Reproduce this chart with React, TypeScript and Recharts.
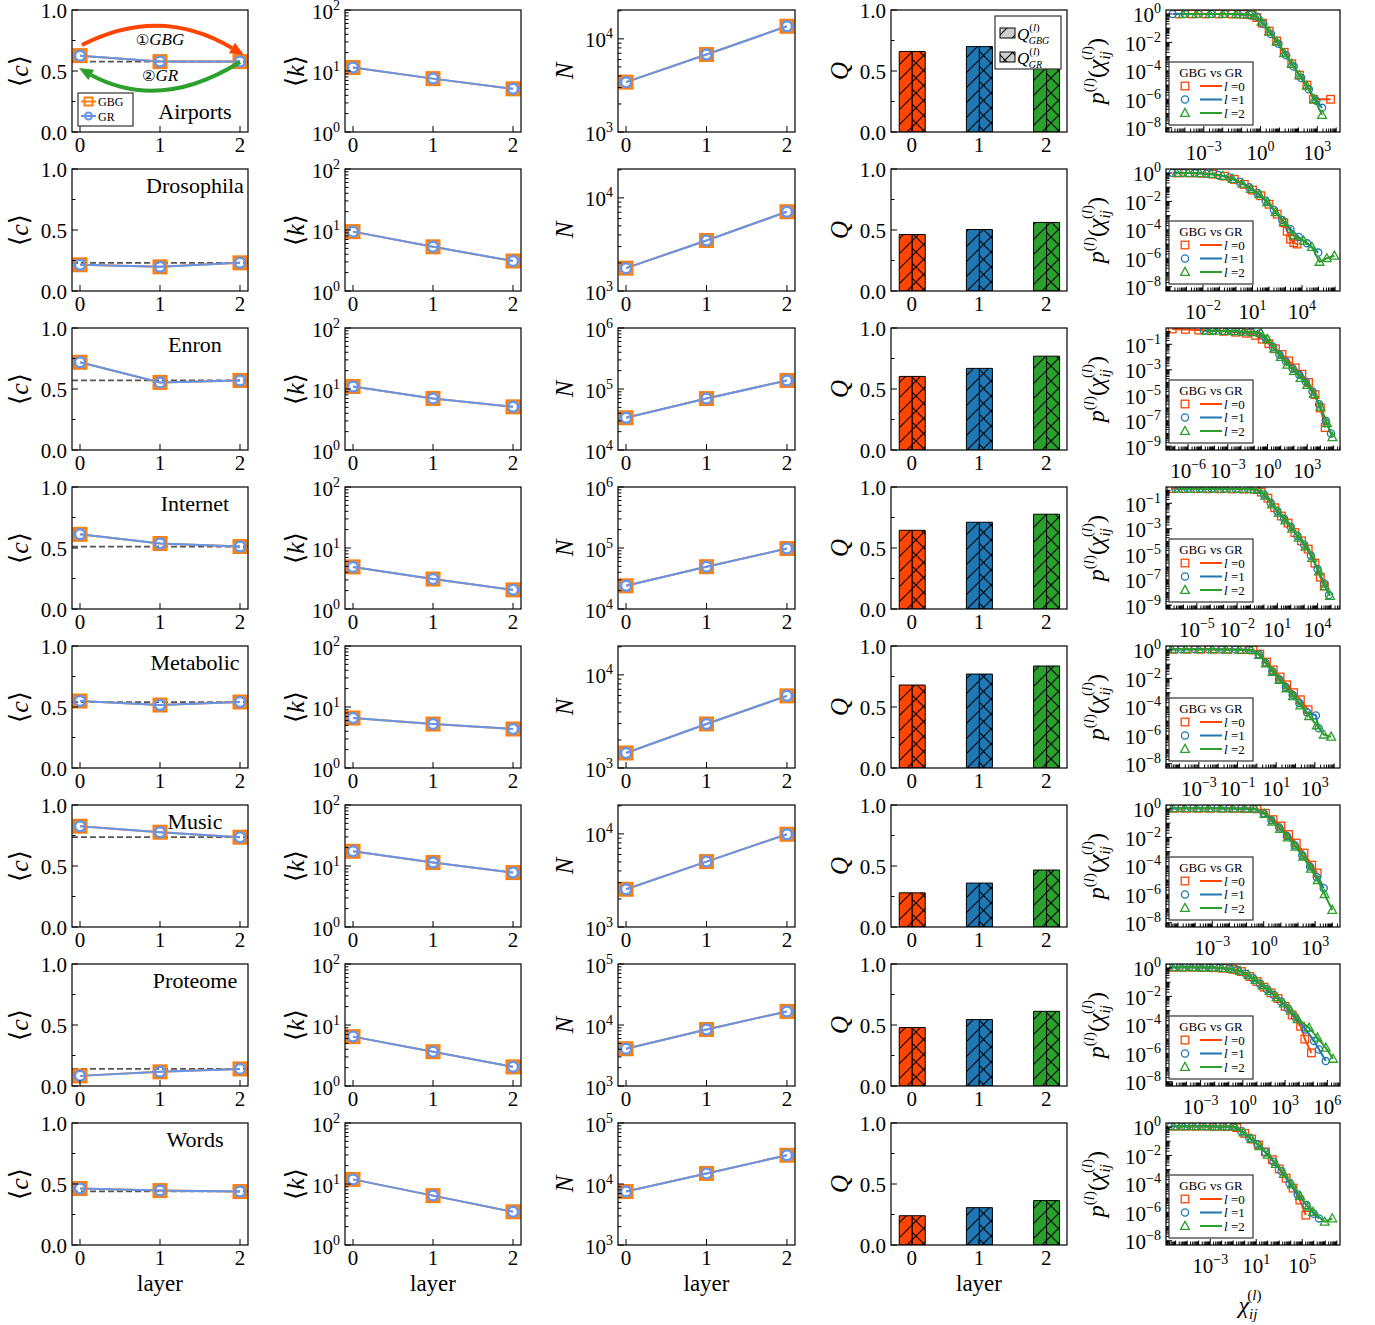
import React from "react";
import {
  LineChart,
  Line,
  BarChart,
  Bar,
  Cell,
  ScatterChart,
  Scatter,
  XAxis,
  YAxis,
  ReferenceLine,
} from "recharts";

const FONT = "'Liberation Serif', 'DejaVu Serif', serif";
const ORANGE = "#ff7f0e";
const CORNFLOWER = "#6495ed";
const LAYER_COLORS = ["#ff4500", "#1f77b4", "#2ca02c"];

const NETWORKS = ["Airports", "Drosophila", "Enron", "Internet", "Metabolic", "Music", "Proteome", "Words"];
const LAYERS = [0, 1, 2];

// <c> per layer (GBG and GR coincide), dashed line = layer-0 reference
const CLUSTERING = [
  [0.626, 0.577, 0.577],
  [0.215, 0.198, 0.231],
  [0.719, 0.554, 0.57],
  [0.612, 0.537, 0.512],
  [0.549, 0.516, 0.541],
  [0.826, 0.777, 0.736],
  [0.083, 0.116, 0.14],
  [0.463, 0.446, 0.438],
];
const CLUSTERING_REF = [0.577, 0.23, 0.57, 0.512, 0.54, 0.736, 0.14, 0.44];

// <k> per layer
const DEGREE = [
  [11.4, 7.5, 5.1],
  [9.4, 5.3, 3.1],
  [11.0, 7.0, 5.1],
  [4.9, 3.1, 2.06],
  [6.6, 5.25, 4.36],
  [17.4, 11.4, 7.8],
  [6.45, 3.65, 2.06],
  [11.9, 6.45, 3.5],
];

// N per layer
const NODES = [
  [3430, 6790, 13650],
  [1760, 3490, 7100],
  [33800, 69700, 138000],
  [24000, 49400, 98000],
  [1450, 2970, 5950],
  [2540, 5040, 9900],
  [4080, 8440, 16700],
  [7520, 14900, 29600],
];
const NODES_RANGE = [[3, 4.31], [3, 4.31], [4, 6], [4, 6], [3, 4.31], [3, 4.31], [3, 5], [3, 5]];
const NODES_LABELS = [[3, 4], [3, 4], [4, 5, 6], [4, 5, 6], [3, 4], [3, 4], [3, 4, 5], [3, 4, 5]];

// Q per layer (GBG and GR halves)
const MODULARITY = [
  [0.66, 0.7, 0.73],
  [0.463, 0.504, 0.562],
  [0.603, 0.669, 0.769],
  [0.645, 0.711, 0.777],
  [0.68, 0.77, 0.836],
  [0.28, 0.36, 0.467],
  [0.479, 0.545, 0.612],
  [0.24, 0.306, 0.364],
];

// p(chi) distributions, points as [log10 chi, log10 p], for l = 0, 1, 2
const CHI_AIRPORTS = [
  [[-4.3, 0], [-3.6, 0], [-2.9, 0], [-2.2, 0], [-1.5, 0], [-0.9, -0.03], [-0.45, -0.07], [-0.2, -0.25], [0.1, -0.65], [0.45, -1.2], [0.85, -1.9], [1.25, -2.7], [1.65, -3.5], [2.05, -4.3], [2.45, -5.0], [2.8, -6.0], [3.7, -6.0]],
  [[-4.65, 0], [-4.0, 0], [-3.3, 0], [-2.6, 0], [-1.9, 0], [-1.2, -0.02], [-0.6, -0.05], [-0.2, -0.2], [0.15, -0.7], [0.55, -1.4], [0.95, -2.1], [1.35, -2.9], [1.75, -3.7], [2.15, -4.5], [2.55, -5.3], [2.95, -6.1], [3.25, -6.6]],
  [[-4.1, 0], [-3.4, 0], [-2.7, 0], [-2.0, 0], [-1.3, -0.01], [-0.7, -0.04], [-0.3, -0.12], [0.05, -0.55], [0.45, -1.25], [0.85, -1.95], [1.25, -2.75], [1.65, -3.5], [2.05, -4.3], [2.45, -5.05], [2.85, -6.0], [3.25, -7.1]],
];
const CHI_DROSOPHILA = [
  [[-3.5, 0], [-2.8, 0], [-2.1, -0.02], [-1.4, -0.08], [-0.7, -0.22], [-0.1, -0.45], [0.5, -0.8], [1.0, -1.2], [1.5, -1.6], [2.0, -2.2], [2.5, -2.9], [2.9, -3.5], [3.1, -4.1], [3.3, -4.65], [3.5, -4.9], [3.7, -5.0]],
  [[-3.84, 0], [-3.2, 0], [-2.5, -0.01], [-1.8, -0.05], [-1.1, -0.14], [-0.4, -0.32], [0.2, -0.62], [0.8, -1.0], [1.3, -1.4], [1.8, -1.95], [2.3, -2.6], [2.8, -3.3], [3.3, -3.95], [3.8, -4.5], [4.3, -4.95], [4.98, -5.6]],
  [[-3.6, 0], [-2.9, 0], [-2.2, -0.02], [-1.5, -0.07], [-0.8, -0.2], [-0.2, -0.42], [0.4, -0.75], [0.9, -1.12], [1.4, -1.5], [1.9, -2.05], [2.4, -2.75], [2.9, -3.45], [3.5, -4.4], [4.1, -4.77], [4.6, -5.2], [5.06, -6.25], [5.5, -6.0], [5.96, -5.82]],
];
const CHI_ENRON = [
  [[-7.2, 0.2], [-6.2, 0.17], [-5.2, 0.12], [-4.2, 0.07], [-3.3, 0.02], [-2.4, -0.05], [-1.6, -0.13], [-0.9, -0.3], [-0.4, -0.6], [0.1, -0.95], [0.6, -1.35], [1.1, -1.8], [1.6, -2.3], [2.1, -2.85], [2.6, -3.35], [3.1, -4.0], [3.6, -4.95], [4.0, -6.0], [4.36, -7.54]],
  [[-4.8, 0.07], [-4.1, 0.06], [-3.4, 0.04], [-2.7, 0.02], [-2.0, -0.01], [-1.3, -0.05], [-0.6, -0.15], [-0.1, -0.6], [0.4, -1.2], [0.9, -1.8], [1.4, -2.35], [1.9, -2.9], [2.4, -3.4], [2.9, -3.95], [3.4, -4.7], [3.9, -5.7], [4.4, -7.0], [4.8, -8.0]],
  [[-4.6, 0.07], [-3.9, 0.06], [-3.2, 0.04], [-2.5, 0.02], [-1.8, -0.01], [-1.1, -0.04], [-0.5, -0.12], [0.0, -0.6], [0.5, -1.35], [1.0, -2.0], [1.5, -2.6], [2.0, -3.1], [2.5, -3.65], [3.0, -4.2], [3.5, -4.9], [4.0, -5.9], [4.5, -7.2], [4.91, -8.3]],
];
const CHI_INTERNET = [
  [[-6.9, 0.15], [-6.0, 0.15], [-5.1, 0.15], [-4.2, 0.14], [-3.3, 0.14], [-2.4, 0.13], [-1.5, 0.12], [-0.7, 0.1], [-0.2, -0.12], [0.3, -0.6], [0.8, -1.35], [1.3, -2.0], [1.8, -2.55], [2.3, -3.3], [2.8, -3.95], [3.3, -4.6], [3.8, -5.7], [4.2, -6.8], [4.5, -7.5]],
  [[-6.6, 0.15], [-5.7, 0.15], [-4.8, 0.15], [-3.9, 0.14], [-3.0, 0.14], [-2.1, 0.13], [-1.2, 0.12], [-0.5, 0.08], [0.0, -0.3], [0.5, -0.95], [1.0, -1.6], [1.5, -2.2], [2.0, -2.85], [2.5, -3.55], [3.0, -4.25], [3.5, -5.1], [4.0, -6.15], [4.5, -7.3], [4.85, -8.2]],
  [[-6.4, 0.15], [-5.5, 0.15], [-4.6, 0.15], [-3.7, 0.14], [-2.8, 0.14], [-1.9, 0.13], [-1.0, 0.11], [-0.4, 0.05], [0.1, -0.4], [0.6, -1.1], [1.1, -1.75], [1.6, -2.35], [2.1, -3.0], [2.6, -3.7], [3.1, -4.4], [3.6, -5.3], [4.1, -6.35], [4.55, -7.5], [4.93, -8.27]],
];
const CHI_METABOLIC = [
  [[-4.3, 0.05], [-3.6, 0.05], [-2.9, 0.05], [-2.2, 0.05], [-1.5, 0.04], [-0.8, 0.02], [-0.2, 0], [0.15, -0.3], [0.5, -0.85], [0.85, -1.4], [1.2, -1.9], [1.55, -2.45], [1.9, -3.0], [2.25, -3.5], [2.65, -4.2]],
  [[-4.57, 0.05], [-3.9, 0.05], [-3.2, 0.05], [-2.5, 0.05], [-1.8, 0.04], [-1.1, 0.03], [-0.4, 0.01], [0.1, -0.3], [0.45, -0.9], [0.8, -1.5], [1.15, -2.05], [1.5, -2.6], [1.85, -3.15], [2.2, -3.75], [2.6, -4.4], [3.05, -4.6], [3.2, -5.5]],
  [[-4.4, 0.05], [-3.7, 0.05], [-3.0, 0.05], [-2.3, 0.05], [-1.6, 0.04], [-0.9, 0.02], [-0.3, 0], [0.12, -0.35], [0.47, -0.95], [0.82, -1.55], [1.17, -2.1], [1.52, -2.7], [1.87, -3.25], [2.25, -3.9], [2.7, -4.65], [3.1, -5.3], [3.46, -5.95], [3.84, -6.1]],
];
const CHI_MUSIC = [
  [[-5.2, 0.05], [-4.5, 0.05], [-3.8, 0.05], [-3.1, 0.05], [-2.4, 0.05], [-1.7, 0.04], [-1.0, 0.03], [-0.4, 0.01], [0.1, -0.3], [0.55, -0.75], [1.0, -1.2], [1.45, -1.8], [1.9, -2.4], [2.35, -3.1], [2.8, -3.95], [3.12, -4.5]],
  [[-5.5, 0.05], [-4.8, 0.05], [-4.1, 0.05], [-3.4, 0.05], [-2.7, 0.05], [-2.0, 0.04], [-1.3, 0.03], [-0.6, 0.02], [0.0, -0.3], [0.45, -0.8], [0.9, -1.3], [1.35, -1.9], [1.8, -2.55], [2.25, -3.25], [2.7, -4.05], [3.1, -4.8], [3.5, -5.57]],
  [[-5.3, 0.05], [-4.6, 0.05], [-3.9, 0.05], [-3.2, 0.05], [-2.5, 0.05], [-1.8, 0.04], [-1.1, 0.03], [-0.5, 0.02], [0.05, -0.35], [0.5, -0.9], [0.95, -1.4], [1.4, -2.0], [1.85, -2.65], [2.3, -3.35], [2.75, -4.2], [3.15, -5.0], [3.55, -6.0], [4.0, -7.1]],
];
const CHI_PROTEOME = [
  [[-4.9, 0.05], [-4.2, 0.05], [-3.5, 0.05], [-2.8, 0.04], [-2.1, 0.02], [-1.4, -0.02], [-0.7, -0.1], [-0.1, -0.25], [0.5, -0.6], [1.0, -0.95], [1.5, -1.35], [2.0, -1.75], [2.5, -2.15], [3.0, -2.7], [3.5, -3.3], [4.1, -4.1], [4.4, -5.0], [4.87, -5.97]],
  [[-5.23, 0.05], [-4.5, 0.05], [-3.8, 0.05], [-3.1, 0.04], [-2.4, 0.03], [-1.7, 0], [-1.0, -0.05], [-0.4, -0.15], [0.2, -0.4], [0.7, -0.72], [1.2, -1.1], [1.7, -1.5], [2.2, -1.9], [2.7, -2.35], [3.2, -2.85], [3.7, -3.45], [4.47, -4.32], [5.06, -5.14], [5.41, -5.73], [5.89, -6.55]],
  [[-5.0, 0.05], [-4.3, 0.05], [-3.6, 0.05], [-2.9, 0.04], [-2.2, 0.03], [-1.5, 0], [-0.8, -0.06], [-0.2, -0.2], [0.4, -0.5], [0.9, -0.85], [1.4, -1.22], [1.9, -1.62], [2.4, -2.05], [2.9, -2.5], [3.4, -3.0], [3.9, -3.6], [4.7, -4.2], [5.3, -4.9], [5.89, -5.61], [6.41, -6.39]],
];
const CHI_WORDS = [
  [[-6.0, 0.05], [-5.1, 0.05], [-4.2, 0.05], [-3.3, 0.05], [-2.4, 0.04], [-1.5, 0.03], [-0.7, -0.05], [0, -0.45], [0.6, -0.85], [1.2, -1.27], [1.8, -1.75], [2.4, -2.3], [3.0, -2.95], [3.6, -3.6], [4.2, -4.3], [4.79, -5.14], [5.31, -6.2]],
  [[-6.41, 0.05], [-5.5, 0.05], [-4.6, 0.05], [-3.7, 0.05], [-2.8, 0.04], [-1.9, 0.03], [-1.0, 0.01], [-0.3, -0.3], [0.4, -0.78], [1.1, -1.22], [1.8, -1.78], [2.5, -2.45], [3.2, -3.12], [3.9, -3.95], [4.6, -4.75], [5.37, -5.49], [6.0, -6.1], [6.46, -6.43]],
  [[-6.2, 0.05], [-5.3, 0.05], [-4.4, 0.05], [-3.5, 0.05], [-2.6, 0.04], [-1.7, 0.03], [-0.8, 0], [-0.1, -0.38], [0.6, -0.85], [1.3, -1.35], [2.0, -1.95], [2.7, -2.6], [3.4, -3.3], [4.1, -4.05], [4.8, -4.85], [5.5, -5.6], [5.94, -5.97], [6.95, -6.67], [7.61, -6.43]],
];
const CHI_ALL = [CHI_AIRPORTS, CHI_DROSOPHILA, CHI_ENRON, CHI_INTERNET, CHI_METABOLIC, CHI_MUSIC, CHI_PROTEOME, CHI_WORDS];

// axis ranges in decades
const CHI_XRANGE = [[-5.0, 4.2], [-4.24, 6.3], [-7.67, 5.48], [-7.3, 5.67], [-4.7, 4.3], [-5.7, 4.45], [-5.46, 6.9], [-6.84, 8.28]];
const CHI_XLABELS = [[-3, 0, 3], [-2, 1, 4], [-6, -3, 0, 3], [-5, -2, 1, 4], [-3, -1, 1, 3], [-3, 0, 3], [-3, 0, 3, 6], [-3, 1, 5]];
const CHI_YRANGE = [[-8.3, 0.28], [-8.3, 0.28], [-9.3, 0.28], [-9.3, 0.28], [-8.3, 0.28], [-8.3, 0.28], [-8.3, 0.28], [-8.3, 0.28]];
const CHI_YLABELS = [[0, -2, -4, -6, -8], [0, -2, -4, -6, -8], [-1, -3, -5, -7, -9], [-1, -3, -5, -7, -9], [0, -2, -4, -6, -8], [0, -2, -4, -6, -8], [0, -2, -4, -6, -8], [0, -2, -4, -6, -8]];

// layout
const COL_X = [72, 345, 618, 891, 1166];
const COL_W = [176, 176, 177, 176, 174];
const ROW_Y = [10, 169, 328, 487, 646, 805, 964, 1123];
const PH = 122;
const ML = 80, MT = 22, MR = 15, MB = 40;

const MAJOR = 6;
const MINOR = 3.5;
const TICK_FS = 21;

type TickInfo = { len: number; label?: React.ReactNode; pow?: boolean };

const minus = (e: number) => (e < 0 ? "\u2212" + -e : String(e));

const Pow = ({ e }: { e: number }) => (
  <>
    <tspan>10</tspan>
    <tspan dy={-9} fontSize={14}>{minus(e)}</tspan>
  </>
);

function linearInfo(labels: number[], digits: number) {
  return (v: number): TickInfo =>
    labels.some((l) => Math.abs(l - v) < 1e-9) ? { len: MAJOR, label: v.toFixed(digits) } : { len: MINOR };
}

function logInfo(labels: number[]) {
  return (v: number): TickInfo => {
    const e = Math.log10(v);
    const r = Math.round(e);
    if (Math.abs(e - r) > 1e-6) return { len: MINOR };
    if (!labels.includes(r)) return { len: MAJOR - 1.5 };
    return { len: MAJOR, label: <Pow e={r} />, pow: true };
  };
}

function logTicks(lo: number, hi: number) {
  const out: number[] = [];
  for (let k = Math.floor(lo); k <= Math.ceil(hi); k++) {
    for (let m = 1; m < 10; m++) {
      const v = m * Math.pow(10, k);
      const e = Math.log10(v);
      if (e >= lo - 1e-9 && e <= hi + 1e-9) out.push(v);
    }
  }
  return out;
}

const leftTick = (info: (v: number) => TickInfo) => (p: any) => {
  const t = info(p.payload.value);
  return (
    <g>
      <line x1={p.x} x2={p.x + t.len} y1={p.y} y2={p.y} stroke="#000" strokeWidth={1} />
      {t.label != null && (
        <text x={p.x - 5} y={p.y + (t.pow ? 8.5 : 7.5)} textAnchor="end" fontSize={TICK_FS} fontFamily={FONT} fill="#000">
          {t.label}
        </text>
      )}
    </g>
  );
};

const bottomTick = (info: (v: number) => TickInfo) => (p: any) => {
  const t = info(p.payload.value);
  return (
    <g>
      <line x1={p.x} x2={p.x} y1={p.y} y2={p.y - t.len} stroke="#000" strokeWidth={1} />
      {t.label != null && (
        <text x={p.x} y={p.y + (t.pow ? 28 : 20)} textAnchor="middle" fontSize={TICK_FS} fontFamily={FONT} fill="#000">
          {t.label}
        </text>
      )}
    </g>
  );
};

const axisCommon = {
  tickSize: 0,
  tickMargin: 0,
  tickLine: false,
  interval: 0 as const,
  allowDataOverflow: true,
  axisLine: false,
};

// axes get 1px of room (a zero-sized axis renders nothing); margins leave the plot at ML/MT
function layerAxis(domain: [number, number]) {
  return (
    <XAxis type="number" dataKey="layer" domain={domain} ticks={LAYERS} height={1} {...axisCommon}
      tick={bottomTick(linearInfo(LAYERS, 0))} />
  );
}

function unitYAxis() {
  return (
    <YAxis type="number" domain={[0, 1]} ticks={[0, 0.25, 0.5, 0.75, 1]} width={1} {...axisCommon}
      tick={leftTick(linearInfo([0, 0.5, 1], 1))} />
  );
}

function logYAxis(lo: number, hi: number, labels: number[]) {
  return (
    <YAxis type="number" scale="log" domain={[Math.pow(10, lo), Math.pow(10, hi)]} ticks={logTicks(lo, hi)}
      width={1} {...axisCommon} tick={leftTick(logInfo(labels))} />
  );
}

const size = (col: number) => ({
  width: ML + COL_W[col] + MR,
  height: MT + PH + MB,
  margin: { top: MT, right: MR, bottom: MB - 1, left: ML - 1 },
});

function Panel({ row, col, children }: { row: number; col: number; children: React.ReactNode }) {
  return (
    <div style={{ position: "absolute", left: COL_X[col] - ML, top: ROW_Y[row] - MT }}>
      {children}
    </div>
  );
}

const squareDot = (p: any) => (
  <rect key={`s${p.index}`} x={p.cx - 6} y={p.cy - 6} width={12} height={12} fill="none" stroke={ORANGE} strokeWidth={3} />
);
const circleDot = (p: any) => (
  <circle key={`c${p.index}`} cx={p.cx} cy={p.cy} r={5} fill="none" stroke={CORNFLOWER} strokeWidth={2.5} />
);

const layerRows = (values: number[]) => LAYERS.map((l, i) => ({ layer: l, gbg: values[i], gr: values[i] }));

function ClusteringPanel({ row }: { row: number }) {
  return (
    <Panel row={row} col={0}>
      <LineChart {...size(0)} data={layerRows(CLUSTERING[row])}>
        {layerAxis([-0.1, 2.1])}
        {unitYAxis()}
        <ReferenceLine y={CLUSTERING_REF[row]} stroke="#555" strokeWidth={1.8} strokeDasharray="6 3" />
        <Line dataKey="gbg" stroke={ORANGE} strokeWidth={2} dot={squareDot} activeDot={false} isAnimationActive={false} />
        <Line dataKey="gr" stroke={CORNFLOWER} strokeWidth={2} dot={circleDot} activeDot={false} isAnimationActive={false} />
      </LineChart>
    </Panel>
  );
}

function LogPanel({ row, col, values, lo, hi, labels }: { row: number; col: number; values: number[]; lo: number; hi: number; labels: number[] }) {
  return (
    <Panel row={row} col={col}>
      <LineChart {...size(col)} data={layerRows(values)}>
        {layerAxis([-0.1, 2.1])}
        {logYAxis(lo, hi, labels)}
        <Line dataKey="gbg" stroke={ORANGE} strokeWidth={2} dot={squareDot} activeDot={false} isAnimationActive={false} />
        <Line dataKey="gr" stroke={CORNFLOWER} strokeWidth={2} dot={circleDot} activeDot={false} isAnimationActive={false} />
      </LineChart>
    </Panel>
  );
}

function ModularityPanel({ row }: { row: number }) {
  return (
    <Panel row={row} col={3}>
      <BarChart {...size(3)} data={layerRows(MODULARITY[row])} barGap={0} barSize={13}>
        {layerAxis([-0.31, 2.31])}
        {unitYAxis()}
        <Bar dataKey="gbg" stroke="#000" strokeWidth={1} isAnimationActive={false}>
          {LAYERS.map((l) => <Cell key={l} fill={`url(#slash${l})`} />)}
        </Bar>
        <Bar dataKey="gr" stroke="#000" strokeWidth={1} isAnimationActive={false}>
          {LAYERS.map((l) => <Cell key={l} fill={`url(#cross${l})`} />)}
        </Bar>
      </BarChart>
    </Panel>
  );
}

function Marker({ l, cx, cy }: { l: number; cx: number; cy: number }) {
  const c = LAYER_COLORS[l];
  if (l === 0) return <rect x={cx - 3.8} y={cy - 3.8} width={7.6} height={7.6} fill="none" stroke={c} strokeWidth={1.3} />;
  if (l === 1) return <circle cx={cx} cy={cy} r={3.6} fill="none" stroke={c} strokeWidth={1.3} />;
  return <polygon points={`${cx},${cy - 4.6} ${cx - 4.4},${cy + 3.4} ${cx + 4.4},${cy + 3.4}`} fill="none" stroke={c} strokeWidth={1.3} />;
}

function ChiPanel({ row }: { row: number }) {
  const [xlo, xhi] = CHI_XRANGE[row];
  const [ylo, yhi] = CHI_YRANGE[row];
  return (
    <Panel row={row} col={4}>
      <ScatterChart {...size(4)}>
        <XAxis type="number" dataKey="x" scale="log" domain={[Math.pow(10, xlo), Math.pow(10, xhi)]} ticks={logTicks(xlo, xhi)}
          height={1} {...axisCommon} tick={bottomTick(logInfo(CHI_XLABELS[row]))} />
        <YAxis type="number" dataKey="y" scale="log" domain={[Math.pow(10, ylo), Math.pow(10, yhi)]} ticks={logTicks(ylo, yhi)}
          width={1} {...axisCommon} tick={leftTick(logInfo(CHI_YLABELS[row]))} />
        {CHI_ALL[row].map((pts, l) => (
          <Scatter
            key={l}
            data={pts.map(([a, b]) => ({ x: Math.pow(10, a), y: Math.pow(10, b) }))}
            line={{ stroke: LAYER_COLORS[l], strokeWidth: 2 }}
            shape={(p: any) => <Marker l={l} cx={p.cx} cy={p.cy} />}
            isAnimationActive={false}
          />
        ))}
      </ScatterChart>
    </Panel>
  );
}

function Hatch({ id, color, cross }: { id: string; color: string; cross: boolean }) {
  const s = 15;
  const fwd = `M${-s / 2},${s / 2} L${s / 2},${-s / 2} M0,${s} L${s},0 M${s / 2},${s * 1.5} L${s * 1.5},${s / 2}`;
  const back = `M${-s / 2},${s / 2} L${s / 2},${s * 1.5} M0,0 L${s},${s} M${s / 2},${-s / 2} L${s * 1.5},${s / 2}`;
  return (
    <pattern id={id} patternUnits="userSpaceOnUse" width={s} height={s}>
      <rect width={s} height={s} fill={color} />
      <path d={fwd} stroke="#000" strokeWidth={1.1} />
      {cross && <path d={back} stroke="#000" strokeWidth={1.1} />}
    </pattern>
  );
}

function Patterns() {
  return (
    <svg width={0} height={0} style={{ position: "absolute" }}>
      <defs>
        {LAYER_COLORS.map((c, i) => <Hatch key={`s${i}`} id={`slash${i}`} color={c} cross={false} />)}
        {LAYER_COLORS.map((c, i) => <Hatch key={`c${i}`} id={`cross${i}`} color={c} cross={true} />)}
        <Hatch id="slashG" color="#cfcfcf" cross={false} />
        <Hatch id="crossG" color="#cfcfcf" cross={true} />
      </defs>
    </svg>
  );
}

function ChiLegend({ top }: { top: number }) {
  const x0 = 1169;
  return (
    <g fontFamily={FONT}>
      <rect x={x0} y={top + 52} width={84} height={63} fill="#fff" stroke="#333" strokeWidth={1.2} />
      <text x={x0 + 42} y={top + 67} textAnchor="middle" fontSize={13}>GBG vs GR</text>
      {LAYERS.map((l) => {
        const yr = top + 76 + l * 13.5;
        return (
          <g key={l}>
            <Marker l={l} cx={x0 + 16} cy={yr} />
            <line x1={x0 + 31} x2={x0 + 53} y1={yr} y2={yr} stroke={LAYER_COLORS[l]} strokeWidth={2} />
            <text x={x0 + 55} y={yr + 4.5} fontSize={13}>
              <tspan fontStyle="italic">l</tspan> ={l}
            </text>
          </g>
        );
      })}
    </g>
  );
}

function Overlay() {
  const els: React.ReactNode[] = [];
  ROW_Y.forEach((y, r) => {
    const mid = y + PH / 2;
    COL_X.forEach((x, c) => {
      els.push(<rect key={`b${r}-${c}`} x={x} y={y} width={COL_W[c]} height={PH} fill="none" stroke="#000" strokeWidth={1.2} />);
    });
    els.push(
      <text key={`yc${r}`} transform={`translate(${COL_X[0] - 44},${mid}) rotate(-90)`} textAnchor="middle" fontSize={26}>
        {"\u27e8"}<tspan fontStyle="italic">c</tspan>{"\u27e9"}
      </text>,
      <text key={`yk${r}`} transform={`translate(${COL_X[1] - 41},${mid}) rotate(-90)`} textAnchor="middle" fontSize={26}>
        {"\u27e8"}<tspan fontStyle="italic">k</tspan>{"\u27e9"}
      </text>,
      <text key={`yn${r}`} transform={`translate(${COL_X[2] - 45},${mid}) rotate(-90)`} textAnchor="middle" fontSize={25} fontStyle="italic">N</text>,
      <text key={`yq${r}`} transform={`translate(${COL_X[3] - 43},${mid}) rotate(-90)`} textAnchor="middle" fontSize={25} fontStyle="italic">Q</text>,
      <text key={`yp${r}`} transform={`translate(${COL_X[4] - 62},${mid}) rotate(-90)`} textAnchor="middle" fontSize={24}>
        <tspan fontStyle="italic">p</tspan>
        <tspan fontSize={15} dy={-10}>(</tspan><tspan fontSize={15} fontStyle="italic">l</tspan><tspan fontSize={15}>)</tspan>
        <tspan dy={10}>(</tspan><tspan fontStyle="italic">{"\u03c7"}</tspan>
        <tspan fontSize={15} fontStyle="italic" dy={6}>ij</tspan>
        <tspan fontSize={15} dx={-9} dy={-18}>(</tspan><tspan fontSize={15} fontStyle="italic">l</tspan><tspan fontSize={15}>)</tspan>
        <tspan dy={12}>)</tspan>
      </text>,
      <text key={`nm${r}`} x={195} y={r === 0 ? 119 : y + 24} textAnchor="middle" fontSize={22}>{NETWORKS[r]}</text>,
      <ChiLegend key={`lg${r}`} top={y} />,
    );
  });
  [0, 1, 2, 3].forEach((c) => {
    els.push(<text key={`lay${c}`} x={COL_X[c] + COL_W[c] / 2} y={1291} textAnchor="middle" fontSize={23}>layer</text>);
  });
  els.push(
    <text key="chi" x={1250} y={1313} textAnchor="middle" fontSize={24}>
      <tspan fontStyle="italic">{"\u03c7"}</tspan>
      <tspan fontSize={15} fontStyle="italic" dy={6}>ij</tspan>
      <tspan fontSize={15} dx={-10} dy={-19}>(</tspan><tspan fontSize={15} fontStyle="italic">l</tspan><tspan fontSize={15}>)</tspan>
    </text>,
  );
  return (
    <svg width={1375} height={1325} style={{ position: "absolute", left: 0, top: 0, pointerEvents: "none" }} fontFamily={FONT}>
      {els}
      {/* airports annotations */}
      <path d="M82,45 Q160,5 232,48" fill="none" stroke="#ff4500" strokeWidth={4} />
      <polygon points="244,55 228.9,53.2 234.9,42.8" fill="#ff4500" />
      <text x={160} y={45} textAnchor="middle" fontSize={17}>
        <tspan fontFamily="'DejaVu Sans', sans-serif" fontSize={15}>{"\u2460"}</tspan>
        <tspan fontStyle="italic">GBG</tspan>
      </text>
      <path d="M240,62 Q160,112 91,75" fill="none" stroke="#2ca02c" strokeWidth={4} />
      <polygon points="79,68 94.1,69.7 88.3,80.1" fill="#2ca02c" />
      <text x={160} y={81} textAnchor="middle" fontSize={17}>
        <tspan fontFamily="'DejaVu Sans', sans-serif" fontSize={15}>{"\u2461"}</tspan>
        <tspan fontStyle="italic">GR</tspan>
      </text>
      <rect x={78} y={93} width={55} height={33} fill="#fff" stroke="#333" strokeWidth={1.2} />
      <line x1={81} x2={96} y1={101.5} y2={101.5} stroke={ORANGE} strokeWidth={2} />
      <rect x={84.5} y={97.5} width={8} height={8} fill="none" stroke={ORANGE} strokeWidth={2} />
      <text x={98} y={106} fontSize={12}>GBG</text>
      <line x1={81} x2={96} y1={116} y2={116} stroke={CORNFLOWER} strokeWidth={2} />
      <circle cx={88.5} cy={116} r={3.5} fill="none" stroke={CORNFLOWER} strokeWidth={2} />
      <text x={98} y={120.5} fontSize={12}>GR</text>
      {/* modularity legend */}
      <rect x={995} y={16} width={66} height={53} fill="#fff" stroke="#333" strokeWidth={1.2} />
      <rect x={1000} y={28} width={15} height={10} fill="url(#slashG)" stroke="#000" strokeWidth={1} />
      <text x={1017} y={40} fontSize={17}>
        <tspan fontStyle="italic">Q</tspan>
        <tspan fontSize={11} dy={-9}>(</tspan><tspan fontSize={11} fontStyle="italic">l</tspan><tspan fontSize={11}>)</tspan>
        <tspan fontSize={10} fontStyle="italic" dx={-11} dy={13}>GBG</tspan>
      </text>
      <rect x={1000} y={52} width={15} height={10} fill="url(#crossG)" stroke="#000" strokeWidth={1} />
      <text x={1017} y={64} fontSize={17}>
        <tspan fontStyle="italic">Q</tspan>
        <tspan fontSize={11} dy={-9}>(</tspan><tspan fontSize={11} fontStyle="italic">l</tspan><tspan fontSize={11}>)</tspan>
        <tspan fontSize={10} fontStyle="italic" dx={-11} dy={13}>GR</tspan>
      </text>
    </svg>
  );
}

export default function App() {
  return (
    <div style={{ position: "absolute", left: 0, top: 0, width: 1375, height: 1325, background: "#fff", fontFamily: FONT }}>
      <Patterns />
      {ROW_Y.map((_, r) => (
        <React.Fragment key={r}>
          <ClusteringPanel row={r} />
          <LogPanel row={r} col={1} values={DEGREE[r]} lo={0} hi={2} labels={[0, 1, 2]} />
          <LogPanel row={r} col={2} values={NODES[r]} lo={NODES_RANGE[r][0]} hi={NODES_RANGE[r][1]} labels={NODES_LABELS[r]} />
          <ModularityPanel row={r} />
          <ChiPanel row={r} />
        </React.Fragment>
      ))}
      <Overlay />
    </div>
  );
}
